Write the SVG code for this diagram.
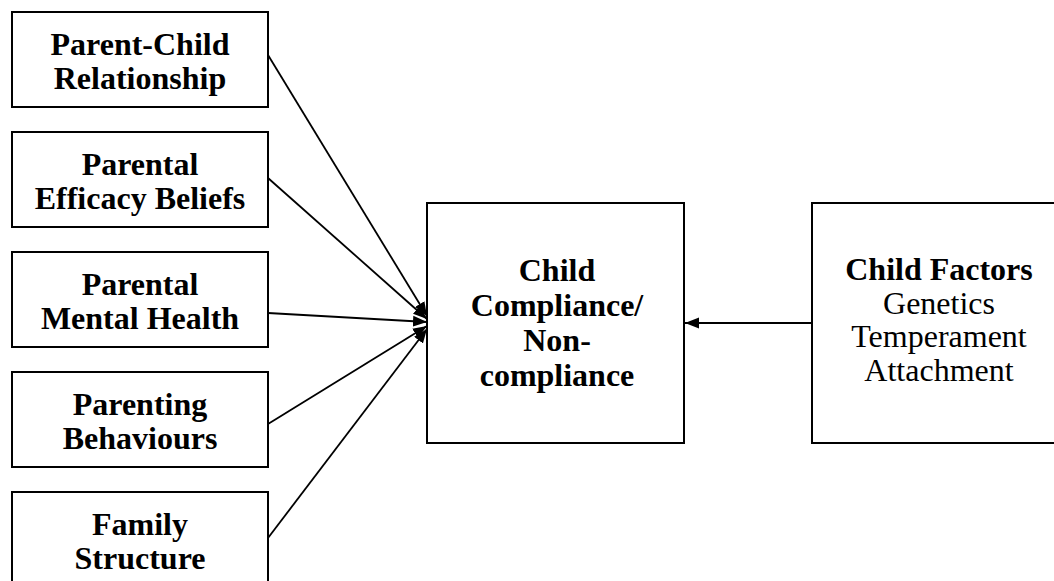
<svg xmlns="http://www.w3.org/2000/svg" width="1054" height="581" viewBox="0 0 1054 581">
<style>
.box{fill:#fff;stroke:#000;stroke-width:2}
.t{font-family:"Liberation Serif","Times New Roman",serif;font-size:32px;text-anchor:middle;fill:#000}
.b{font-weight:bold}
.c{stroke:#000;stroke-width:1.8;fill:none}
</style>
<defs>
<marker id="ah" markerUnits="userSpaceOnUse" markerWidth="15" markerHeight="12" refX="14" refY="6" orient="auto">
<path d="M0,0.5 L14,6 L0,11.5 z" fill="#000"/>
</marker>
</defs>
<rect width="1054" height="581" fill="#fff"/>
<g id="connectors">
<line class="c" x1="268" y1="55" x2="427" y2="316" marker-end="url(#ah)"/>
<line class="c" x1="268" y1="178" x2="427" y2="319" marker-end="url(#ah)"/>
<line class="c" x1="268" y1="313" x2="427" y2="322" marker-end="url(#ah)"/>
<line class="c" x1="268" y1="424" x2="427" y2="326" marker-end="url(#ah)"/>
<line class="c" x1="268" y1="538" x2="427" y2="329" marker-end="url(#ah)"/>
<line class="c" x1="812" y1="323" x2="685" y2="323" marker-end="url(#ah)"/>
</g>
<g id="n1">
<rect class="box" x="12" y="12" width="256" height="95"/>
<text class="t b" x="140" y="55">Parent-Child</text>
<text class="t b" x="140" y="89">Relationship</text>
</g>
<g id="n2">
<rect class="box" x="12" y="132" width="256" height="95"/>
<text class="t b" x="140" y="175">Parental</text>
<text class="t b" x="140" y="209">Efficacy Beliefs</text>
</g>
<g id="n3">
<rect class="box" x="12" y="252" width="256" height="95"/>
<text class="t b" x="140" y="295">Parental</text>
<text class="t b" x="140" y="329">Mental Health</text>
</g>
<g id="n4">
<rect class="box" x="12" y="372" width="256" height="95"/>
<text class="t b" x="140" y="415">Parenting</text>
<text class="t b" x="140" y="449">Behaviours</text>
</g>
<g id="n5">
<rect class="box" x="12" y="492" width="256" height="95"/>
<text class="t b" x="140" y="535">Family</text>
<text class="t b" x="140" y="569">Structure</text>
</g>
<g id="center">
<rect class="box" x="427" y="203" width="257" height="240"/>
<text class="t b" x="557" y="281">Child</text>
<text class="t b" x="557" y="316">Compliance/</text>
<text class="t b" x="557" y="351">Non-</text>
<text class="t b" x="557" y="386">compliance</text>
</g>
<g id="childfactors">
<rect class="box" x="812" y="203" width="256" height="240"/>
<text class="t b" x="939" y="280">Child Factors</text>
<text class="t" x="939" y="314">Genetics</text>
<text class="t" x="939" y="347">Temperament</text>
<text class="t" x="939" y="381">Attachment</text>
</g>
</svg>
